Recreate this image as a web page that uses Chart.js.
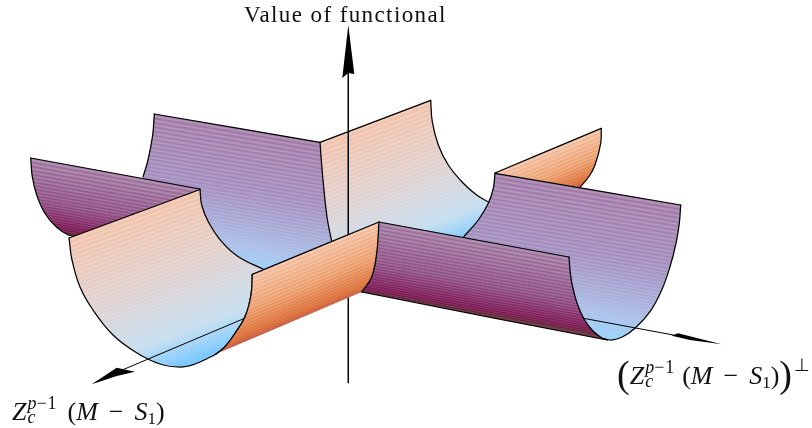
<!DOCTYPE html>
<html>
<head>
<meta charset="utf-8">
<script src="https://cdn.jsdelivr.net/npm/chart.js@4"></script>
<style>
  html, body { margin: 0; padding: 0; background: #fff; }
  #wrap { position: relative; width: 812px; height: 428px; overflow: hidden; }
  canvas { position: absolute; left: 0; top: 0; }
  .lbl { position: absolute; white-space: nowrap; font-family: "Liberation Serif", serif; font-size: 26px; color: #111; line-height: 1; }
  .lbl i { font-style: italic; }
  .stack { display: inline-block; position: relative; width: 38px; height: 1em; }
  .stack i, .stack span { position: absolute; font-size: 18px; left: 1px; }
  .stack .up { top: 0; }
  .stack .dn { top: 14px; }
  .stack span.up { left: 10px; letter-spacing: 1px; }
  .minus { margin: 0 11px; }
  .big { font-size: 38px; line-height: 0; vertical-align: -3px; }
  .supr { font-size: 18px; line-height: 0; vertical-align: 13px; margin-left: 2px; }
  .s1 { font-size: 17px; line-height: 0; vertical-align: -4px; }
</style>
</head>
<body>
<div id="wrap">
  <canvas id="chart" width="812" height="428"></canvas>
  <div class="lbl" style="left:244px;top:3px;font-size:23px;letter-spacing:1.4px">Value of functional</div>
  <div class="lbl" style="left:12px;top:394px"><i>Z</i><span class="stack" style="width:41px"><i class="up">p</i><span class="up">−1</span><i class="dn">c</i></span>(<i>M</i><span class="minus">−</span><i>S</i><span class="s1">1</span>)</div>
  <div class="lbl" style="left:617px;top:358px"><span class="big">(</span><i>Z</i><span class="stack"><i class="up">p</i><span class="up">−1</span><i class="dn">c</i></span>(<i>M</i><span class="minus">−</span><i>S</i><span class="s1">1</span>)<span class="big">)</span><span class="supr">⊥</span></div>
</div>
<script>
// ── Outlines (x, y in picture pixels) ──────────────────────────────────────

const farOrangeTop    = [[495, 173], [601.3, 128.3]];
const farOrangeCurve  = [[601.3, 128.3], [600.7, 143.3], [595, 165], [589, 176.5], [580, 187.3]];

const backPurpleCurve = [[143, 177], [148, 160], [152.7, 135], [154.3, 114]];
const backPurpleTop   = [[154.3, 114], [320, 142.3]];
const backPurpleHid   = [[332, 245], [265, 275], [200, 230]];

const backPeachLeft   = [[331.7, 241.7], [327, 217], [322.7, 176.7], [320, 142.3]];
const backPeachTop    = [[320, 142.3], [430.7, 100.3]];
const backPeachRight  = [[430.7, 100.3], [432.3, 121.7], [438.3, 145], [448.3, 165], [463.3, 183.3], [476.7, 195], [489, 202.3]];
const backPeachHid    = [[478, 245], [340, 250]];

const farPurpleCurve  = [[75, 236], [68.3, 235], [56.7, 227.3], [45, 213.3], [36.7, 195], [32.3, 176.7], [30.7, 158]];
const farPurpleTop    = [[30.7, 158], [200, 189]];

const rightPurpleLeft  = [[463.3, 237.3], [478.3, 220], [488.3, 203.3], [493.3, 188.3], [495, 173.3]];
const rightPurpleTop   = [[495, 173.3], [680.7, 205]];
const rightPurpleRight = [[680.7, 205], [679.3, 223.3], [676, 243.3], [670, 266.7], [661.7, 290], [650, 311.7],
                          [635, 328.3], [621.7, 337.3], [610, 340], [597, 336.7]];
const rightPurpleHid   = [[585, 322]];

const frontPeachRight = [[265, 270], [238.3, 256.7], [221.7, 241.7], [208.3, 221.7], [201.7, 205], [200, 189.5]];
const frontPeachTop   = [[200, 189.5], [69, 238]];
const frontPeachLeft  = [[69, 238], [72, 260], [80, 287], [93, 310], [113, 335], [137, 353], [160, 364], [180, 367],
                         [195, 364], [208.3, 358], [216, 354], [225, 346.7], [235, 333.3], [245, 316.7], [251, 295], [252.3, 274.3]];

const darkTop    = [[379, 222], [569, 257]];
const darkRight  = [[569, 257], [570, 270], [572, 284], [577, 303], [584, 319], [592, 330], [601.7, 338]];
const darkBottom = [[601.7, 338], [607, 340], [361.7, 292]];

const orangeLeft  = [[216, 354], [225, 346.7], [235, 333.3], [245, 316.7], [251, 295], [252.3, 274.3]];
const orangeTop   = [[252.3, 274.3], [379, 222]];
const orangeRight = [[379, 222], [376.7, 253], [371.7, 277], [361.7, 292]];

const axisUp    = [[348.3, 60], [348.3, 383]];
const axisLeft  = [[243, 319], [108, 376]];
const axisRight = [[582, 318], [700, 340]];

const arrowUp    = [[348.3, 25], [354.3, 74], [348.3, 73], [342.3, 78]];
const arrowLeft  = [[91.7, 384.3], [116.7, 367.7], [135, 371.7], [116.7, 376]];
const arrowRight = [[721.7, 344.3], [678, 333.3], [671.7, 335.7], [690, 340]];

// ── Colour ramps, top of the trough to the bottom ──────────────────────────

const rampPeach  = [[0, '#f0bfa6'], [0.45, '#dfd0cf'], [0.8, '#c4def0'], [1, '#6fc4ff']];
const rampOrange = [[0, '#f2bb9a'], [0.5, '#ec9c68'], [0.88, '#dc6c34'], [1, '#bd5240']];
const rampPurple = [[0, '#9c72a2'], [0.45, '#a18cbe'], [0.82, '#a9bee8'], [1, '#96d6ff']];
const rampWine   = [[0, '#9a6f9a'], [0.58, '#8c4a82'], [0.92, '#7c1552'], [1, '#5c2a2e']];

// ── Gradient with the fine ruling lines of the mesh ────────────────────────

function hexRgb(h) {
  return [1, 3, 5].map(i => parseInt(h.slice(i, i + 2), 16));
}

function rampAt(ramp, t) {
  for (let i = 1; i < ramp.length; i++) {
    if (t <= ramp[i][0]) {
      const f = (t - ramp[i - 1][0]) / (ramp[i][0] - ramp[i - 1][0]);
      const a = hexRgb(ramp[i - 1][1]), b = hexRgb(ramp[i][1]);
      return a.map((v, k) => v + (b[k] - v) * f);
    }
  }
  return hexRgb(ramp[ramp.length - 1][1]);
}

function rgb(c, lift) {
  const m = c.map(v => Math.round(v + (255 - v) * lift));
  return `rgb(${m[0]},${m[1]},${m[2]})`;
}

function meshFill(chart, shade) {
  const sx = chart.scales.x, sy = chart.scales.y;
  const px = p => [sx.getPixelForValue(p[0]), sy.getPixelForValue(p[1])];
  const [a, b, low] = shade.across.map(px);
  let nx = a[1] - b[1], ny = b[0] - a[0];
  const nl = Math.hypot(nx, ny);
  nx /= nl; ny /= nl;
  let len = (low[0] - a[0]) * nx + (low[1] - a[1]) * ny;
  if (len < 0) { nx = -nx; ny = -ny; len = -len; }

  const g = chart.ctx.createLinearGradient(a[0], a[1], a[0] + nx * len, a[1] + ny * len);
  let pos = 0;
  while (pos < len) {
    const t = pos / len;
    const step = shade.gapTop + (shade.gapLow - shade.gapTop) * t;
    const c = rampAt(shade.ramp, t);
    g.addColorStop(t, rgb(c, 0));
    g.addColorStop(Math.min((pos + step / 2) / len, 1), rgb(c, 0.27 * (1 - 0.6 * t)));
    pos += step;
  }
  return g;
}

// ── Datasets, painted back to front ────────────────────────────────────────

const datasets = [];

function line(points, width, tension) {
  datasets.push({
    data: points, showLine: true, pointRadius: 0, fill: false,
    borderColor: '#000', borderWidth: width, tension, borderCapStyle: 'round',
  });
}

function panel(parts, hidden, shade) {
  let cache = null;
  datasets.push({
    data: [].concat(...parts, hidden), showLine: true, pointRadius: 0, borderWidth: 0, tension: 0,
    fill: 'shape',
    backgroundColor: ctx => {
      if (!ctx.chart.chartArea) return '#000';   // scales not laid out yet
      return (cache = cache || meshFill(ctx.chart, shade));
    },
  });
  parts.forEach(part => line(part, 1.25, 0.4));
}

function arrow(points) {
  datasets.push({
    data: points, showLine: true, pointRadius: 0, borderWidth: 0, tension: 0,
    fill: 'shape', backgroundColor: '#000',
  });
}

panel([farOrangeTop, farOrangeCurve], [],
  { across: [farOrangeTop[0], farOrangeTop[1], farOrangeCurve[4]], ramp: rampOrange, gapTop: 4, gapLow: 2.2 });
panel([backPurpleCurve, backPurpleTop], backPurpleHid,
  { across: [backPurpleTop[0], backPurpleTop[1], [265, 275]], ramp: rampPurple, gapTop: 4.4, gapLow: 2.6 });
panel([backPeachLeft, backPeachTop, backPeachRight], backPeachHid,
  { across: [backPeachTop[0], backPeachTop[1], [470, 240]], ramp: rampPeach, gapTop: 4.4, gapLow: 2.6 });
line(axisUp, 1, 0);
panel([farPurpleCurve, farPurpleTop], [],
  { across: [farPurpleTop[0], farPurpleTop[1], farPurpleCurve[0]], ramp: rampWine, gapTop: 4.2, gapLow: 2 });
panel([rightPurpleLeft, rightPurpleTop, rightPurpleRight], rightPurpleHid,
  { across: [rightPurpleTop[0], rightPurpleTop[1], rightPurpleRight[8]], ramp: rampPurple, gapTop: 4.4, gapLow: 2.6 });
line(axisRight, 1, 0);
panel([frontPeachRight, frontPeachTop, frontPeachLeft], [],
  { across: [frontPeachTop[0], frontPeachTop[1], [180, 367]], ramp: rampPeach, gapTop: 4.4, gapLow: 2.4 });
line(axisLeft, 1, 0);
panel([darkTop, darkRight, darkBottom], [],
  { across: [darkTop[0], darkTop[1], darkBottom[2]], ramp: rampWine, gapTop: 4, gapLow: 2 });
panel([orangeLeft, orangeTop, orangeRight], [],
  { across: [orangeTop[0], orangeTop[1], orangeLeft[0]], ramp: rampOrange, gapTop: 4, gapLow: 2.2 });
arrow(arrowUp);
arrow(arrowLeft);
arrow(arrowRight);

// Chart.js paints the first dataset last, so number them back to front
datasets.forEach((d, i) => { d.order = datasets.length - i; });

new Chart(document.getElementById('chart'), {
  type: 'scatter',
  data: { datasets },
  options: {
    responsive: false, animation: false, clip: false,
    layout: { padding: 0 },
    plugins: { legend: { display: false }, tooltip: { enabled: false } },
    scales: {
      x: { type: 'linear', min: 0, max: 812, display: false },
      y: { type: 'linear', min: 0, max: 428, reverse: true, display: false },
    },
  },
});
</script>
</body>
</html>
